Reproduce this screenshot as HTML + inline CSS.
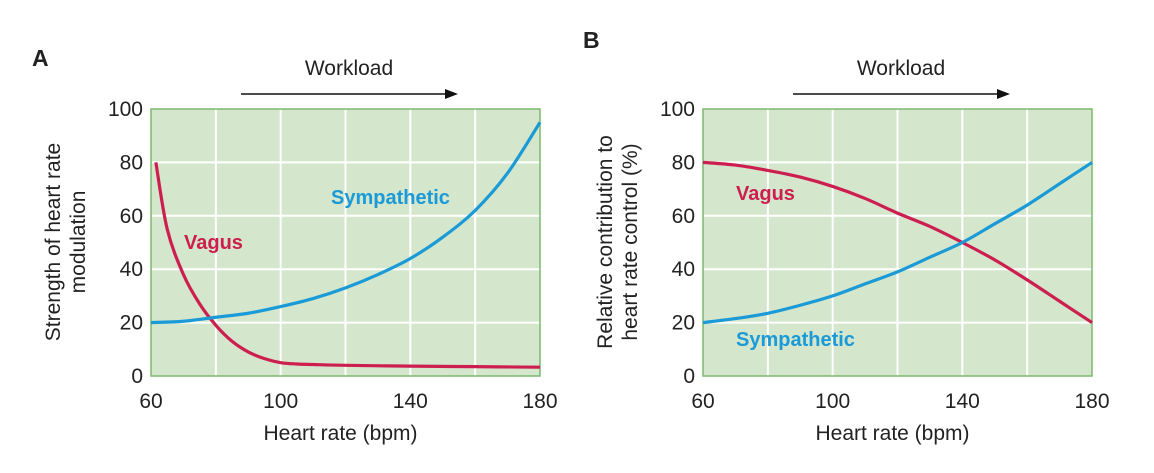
<!DOCTYPE html>
<html><head><meta charset="utf-8"><style>
body{margin:0;background:#fff;}
svg text{font-family:"Liberation Sans",sans-serif;fill:#222;}
</style></head><body>
<svg id="c" width="1154" height="468"></svg>
<script>
const xTicks=[60,100,140,180];
const yTicks=[0,20,40,60,80,100];
const xGrid=[80,100,120,140,160];
const aX=[61.5,65,70,75,80,85,90,95,100,105,110,120,140,160,180];
const aVagus=[80,55,38,27,19,13,9,6.5,5,4.5,4.3,4,3.7,3.5,3.3];
const aSX=[60,70,80,90,100,110,120,130,140,150,160,170,180];
const aSymp=[20,20.5,22,23.5,26,29,33,38,44,52,62,76,95];
const bX=[60,70,80,90,100,110,120,130,140,150,160,170,180];
const bVagus=[80,79,77,74.5,71,66.5,61,56,50,43.5,36,28,20];
const bSymp=[20,21.5,23.5,26.5,30,34.5,39,44.5,50,57,64,72,80];
const NS="http://www.w3.org/2000/svg";
const svg=document.getElementById('c');
function mk(t,a,p){const e=document.createElementNS(NS,t);for(const k in a)e.setAttribute(k,a[k]);(p||svg).appendChild(e);return e;}
function path(pts){let d='M'+pts[0][0]+','+pts[0][1];for(let i=0;i<pts.length-1;i++){const p0=pts[Math.max(0,i-1)],p1=pts[i],p2=pts[i+1],p3=pts[Math.min(pts.length-1,i+2)];
d+=' C'+(p1[0]+(p2[0]-p0[0])/6)+','+(p1[1]+(p2[1]-p0[1])/6)+' '+(p2[0]-(p3[0]-p1[0])/6)+','+(p2[1]-(p3[1]-p1[1])/6)+' '+p2[0]+','+p2[1];}return d;}
function panel(id,L,R,series,labels,title,ytitle){
 const T=109,B=376;
 const sx=v=>L+(v-60)/120*(R-L), sy=v=>B-v/100*(B-T);
 const g=mk('g',{});
 
 
 const bg=mk('rect',{x:L,y:T,width:R-L,height:B-T,fill:'#d4e6cc'},g);
 
 
 xGrid.forEach(v=>{const l=mk('line',{x1:sx(v),x2:sx(v),y1:T,y2:B,stroke:'#fff','stroke-width':2},g);
  
  });
 yTicks.slice(1,5).forEach(v=>{const l=mk('line',{x1:L,x2:R,y1:sy(v),y2:sy(v),stroke:'#fff','stroke-width':2},g);
  
  });
 const br=mk('rect',{x:L,y:T,width:R-L,height:B-T,fill:'none',stroke:'#7cb86c','stroke-width':1.5},g);
 
 
 series.forEach(s=>{const p=mk('path',{d:path(s.x.map((x,i)=>[sx(x),sy(s.y[i])])),fill:'none',stroke:s.c,'stroke-width':3.2},g);
  
  });
 labels.forEach(t=>{const e=mk('text',{x:t.x,y:t.y,'font-size':20,'font-weight':'bold',style:'fill:'+t.c},g);e.textContent=t.s;
  
  });
 xTicks.forEach(v=>{const e=mk('text',{x:sx(v),y:B+32,'text-anchor':'middle','font-size':21},g);e.textContent=v;
  
  });
 yTicks.forEach(v=>{const e=mk('text',{x:L-8,y:sy(v)+7,'text-anchor':'end','font-size':21},g);e.textContent=v;
  
  });
 const xt=mk('text',{x:(L+R)/2-5,y:440,'text-anchor':'middle','font-size':21},g);xt.textContent='Heart rate (bpm)';
 
 
 ytitle.forEach((s,i)=>{const e=mk('text',{x:0,y:0,'text-anchor':'middle','font-size':21,transform:'translate('+(L-91+i*25)+',242) rotate(-90)'},g);e.textContent=s;
  
  });
 const pl=mk('text',{x:title.x,y:title.y,'font-size':23,'font-weight':'bold'},g);pl.textContent=id;
 
 
 const wl=mk('text',{x:L+198,y:75,'text-anchor':'middle','font-size':21},g);wl.textContent='Workload';
 
 
 const ar=mk('line',{x1:L+90,x2:L+298,y1:94,y2:94,stroke:'#111','stroke-width':1.5},g);
 
 
 const ah=mk('polygon',{points:(L+307)+',94 '+(L+294)+',89 '+(L+294)+',99',fill:'#111'},g);
 
 
}
panel('A',151,540,[{x:aX,y:aVagus,c:'#cd1f4f',n:'vagus-line'},{x:aSX,y:aSymp,c:'#1a9ad6',n:'sympathetic-line'}],
 [{x:184,y:249,s:'Vagus',c:'#cd1f4f',n:'vagus-label'},{x:331,y:204,s:'Sympathetic',c:'#1a9ad6',n:'sympathetic-label'}],
 {x:32,y:66},['Strength of heart rate','modulation']);
panel('B',703,1092,[{x:bX,y:bVagus,c:'#cd1f4f',n:'vagus-line'},{x:bX,y:bSymp,c:'#1a9ad6',n:'sympathetic-line'}],
 [{x:736,y:200,s:'Vagus',c:'#cd1f4f',n:'vagus-label'},{x:736,y:346,s:'Sympathetic',c:'#1a9ad6',n:'sympathetic-label'}],
 {x:583,y:48},['Relative contribution to','heart rate control (%)']);
</script>
</body></html>
